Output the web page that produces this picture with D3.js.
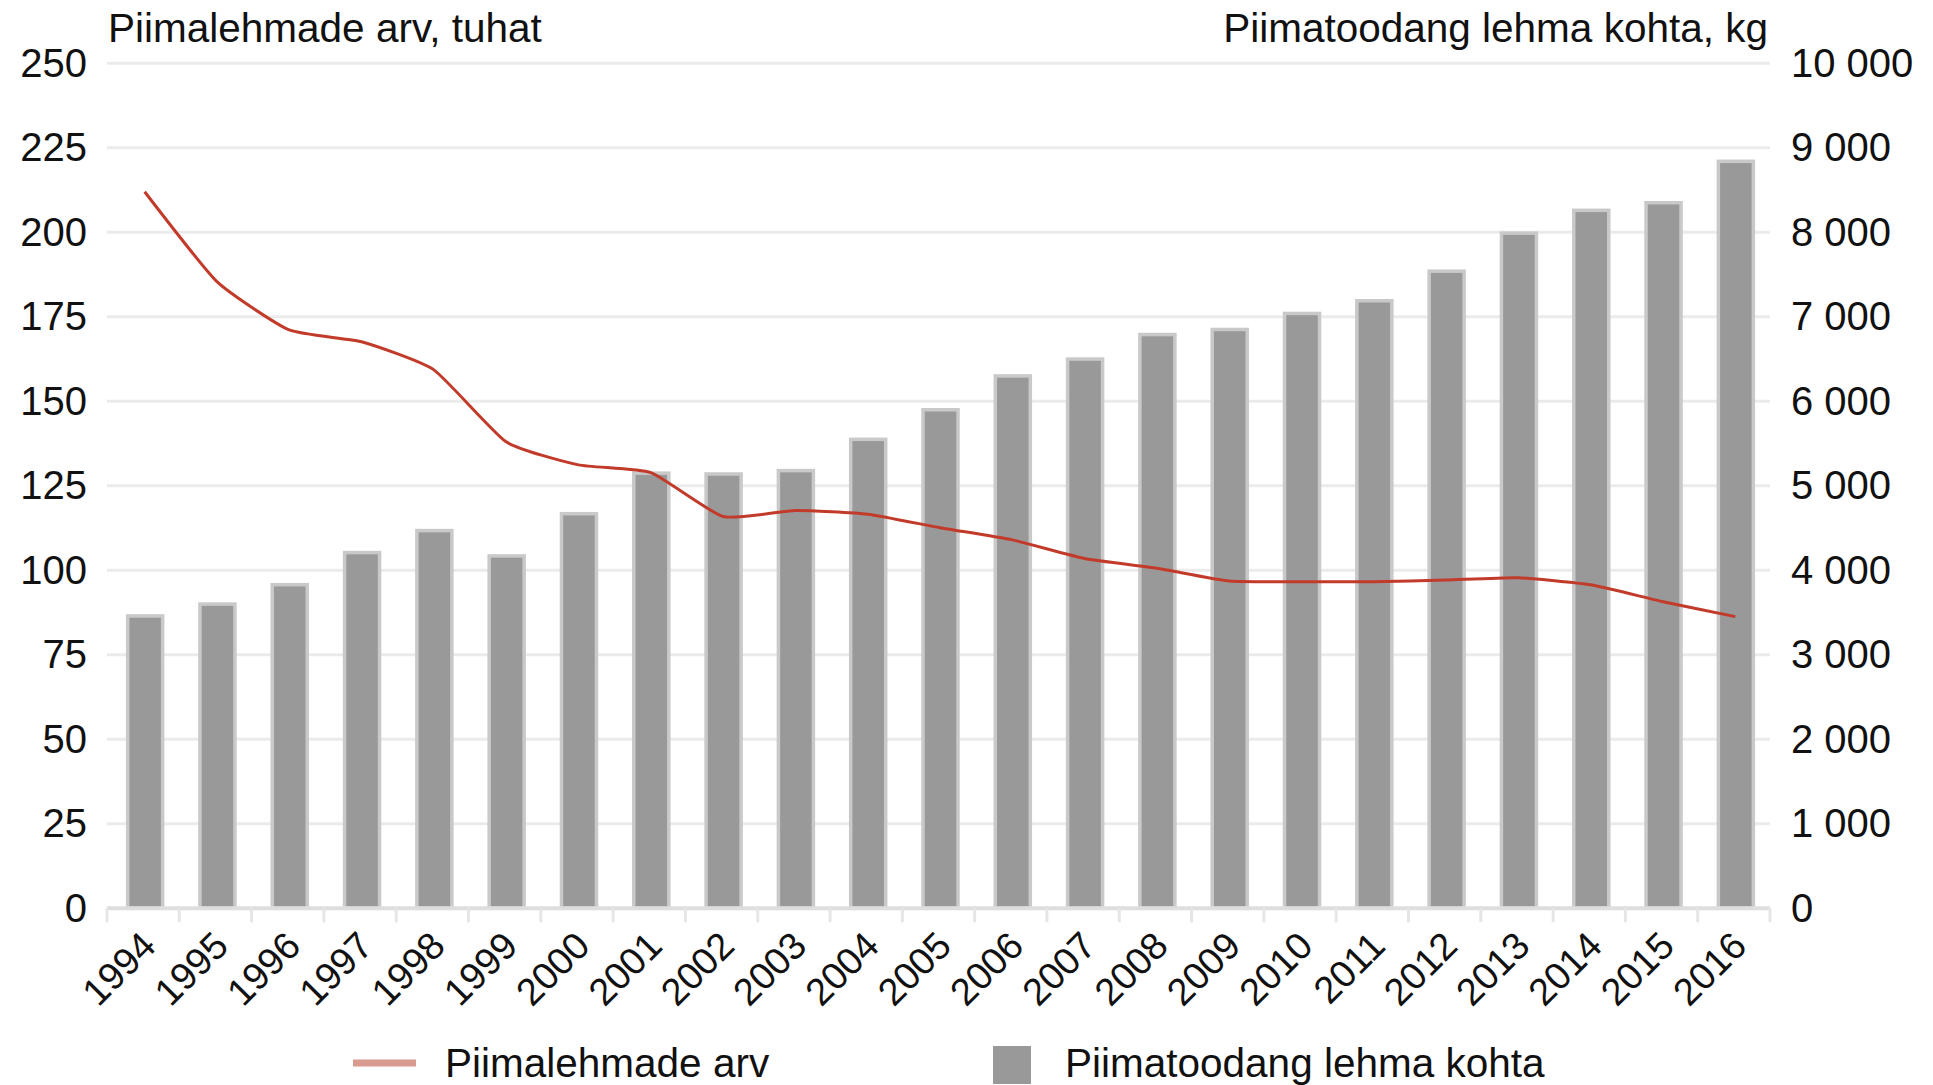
<!DOCTYPE html>
<html>
<head>
<meta charset="utf-8">
<script src="https://cdn.jsdelivr.net/npm/d3@7"></script>
<style>
  body { margin: 0; background: #fff; }
  svg { display: block; font-family: "Liberation Sans", Arial, sans-serif; }
</style>
</head>
<body>
<svg id="chart" width="1933" height="1085"></svg>
<script>
// years on the x axis
const years = ["1994","1995","1996","1997","1998","1999","2000","2001","2002","2003","2004","2005",
               "2006","2007","2008","2009","2010","2011","2012","2013","2014","2015","2016"]
// dairy cows, thousands (left axis, line)
const cows = [212.0, 185.4, 171.1, 167.6, 159.3, 138.0, 131.2, 128.9, 115.9, 117.7, 116.6, 112.6,
              109.0, 103.5, 100.6, 96.8, 96.6, 96.6, 97.1, 97.8, 95.7, 90.7, 86.3]
// milk yield per cow, kg (right axis, bars)
const milk = [3460, 3600, 3830, 4210, 4470, 4170, 4670, 5150, 5140, 5180, 5550, 5900,
              6300, 6500, 6790, 6850, 7040, 7190, 7540, 7990, 8260, 8350, 8840]
const leftTicks = [0, 25, 50, 75, 100, 125, 150, 175, 200, 225, 250]
const rightTicks = [0, 1000, 2000, 3000, 4000, 5000, 6000, 7000, 8000, 9000, 10000]
const leftTitle = "Piimalehmade arv, tuhat"
const rightTitle = "Piimatoodang lehma kohta, kg"
const lineName = "Piimalehmade arv"
const barName = "Piimatoodang lehma kohta"

const svg = d3.select("#chart")
const plotL = 107, plotR = 1770, plotT = 63.3, plotB = 908.3
const lineColor = "#c23b2a", barColor = "#999999"

const x = d3.scaleBand().domain(years).range([plotL, plotR]).padding(0)
const yL = d3.scaleLinear().domain([0, 250]).range([plotB, plotT])
const yR = d3.scaleLinear().domain([0, 10000]).range([plotB, plotT])

const fmt = d3.formatLocale({decimal: ",", thousands: " ", grouping: [3], currency: ["", ""]}).format(",")

// gridlines
svg.append("g")
  .selectAll("line")
  .data(leftTicks.slice(1))
  .join("line")
  .attr("x1", plotL).attr("x2", plotR)
  .attr("y1", d => yL(d)).attr("y2", d => yL(d))
  .attr("stroke", "#ebebeb")
  .attr("stroke-width", 3)

// left axis labels
svg.append("g")
  .attr("transform", `translate(${plotL - 20},0)`)
  .call(d3.axisLeft(yL).tickValues(leftTicks).tickSize(0).tickPadding(0))
  .call(g => g.select(".domain").remove())
  .selectAll("text")
  .attr("font-size", 40)
  .attr("font-family", "Liberation Sans, Arial, sans-serif")
  .attr("fill", "#111")

// right axis labels
svg.append("g")
  .attr("transform", `translate(${plotR + 21},0)`)
  .call(d3.axisRight(yR).tickValues(rightTicks).tickSize(0).tickPadding(0).tickFormat(fmt))
  .call(g => g.select(".domain").remove())
  .selectAll("text")
  .attr("font-size", 40)
  .attr("font-family", "Liberation Sans, Arial, sans-serif")
  .attr("fill", "#111")

// bars
const bw = 35
svg.append("g")
  .selectAll("rect")
  .data(milk)
  .join("rect")
  .attr("x", (d, i) => x(years[i]) + x.bandwidth() / 2 + 2 - bw / 2)
  .attr("y", d => yR(d))
  .attr("width", bw)
  .attr("height", d => plotB - yR(d))
  .attr("fill", barColor)
  .attr("stroke", "#c9c9c9")
  .attr("stroke-width", 3.5)

// x axis line and category ticks
svg.append("line")
  .attr("x1", plotL).attr("x2", plotR)
  .attr("y1", plotB).attr("y2", plotB)
  .attr("stroke", "#dedede")
  .attr("stroke-width", 4)
svg.append("g")
  .selectAll("line")
  .data(years.concat(["end"]))
  .join("line")
  .attr("x1", (d, i) => plotL + i * x.step())
  .attr("x2", (d, i) => plotL + i * x.step())
  .attr("y1", plotB).attr("y2", plotB + 14)
  .attr("stroke", "#e6e6e6")
  .attr("stroke-width", 3)

// rotated year labels
svg.append("g")
  .selectAll("text")
  .data(years)
  .join("text")
  .attr("transform", d => `translate(${x(d) + x.bandwidth() / 2 + 5.5},938.6) rotate(-45)`)
  .attr("text-anchor", "end")
  .attr("dy", "0.35em")
  .attr("font-size", 38)
  .attr("fill", "#111")
  .text(d => d)

// smoothed cow count line (a bit tighter than catmull-rom, like the original)
const line = d3.line()
  .x((d, i) => x(years[i]) + x.bandwidth() / 2 + 1.5)
  .y(d => yL(d))
  .curve(d3.curveCardinal.tension(0.5))
svg.append("path")
  .datum(cows)
  .attr("d", line)
  .attr("fill", "none")
  .attr("stroke", lineColor)
  .attr("stroke-width", 3)

// axis titles
svg.append("text")
  .attr("x", plotL + 1).attr("y", 41.5)
  .attr("font-size", 40.5)
  .attr("fill", "#111")
  .text(leftTitle)
svg.append("text")
  .attr("x", plotR - 2).attr("y", 41.5)
  .attr("text-anchor", "end")
  .attr("font-size", 40.5)
  .attr("fill", "#111")
  .text(rightTitle)

// legend
const legend = svg.append("g")
legend.append("line")
  .attr("x1", 353).attr("x2", 416)
  .attr("y1", 1063).attr("y2", 1063)
  .attr("stroke", "#d99b8f")
  .attr("stroke-width", 7)
legend.append("text")
  .attr("x", 445).attr("y", 1077)
  .attr("font-size", 40.5)
  .attr("fill", "#111")
  .text(lineName)
legend.append("rect")
  .attr("x", 993).attr("y", 1046)
  .attr("width", 38).attr("height", 38)
  .attr("fill", barColor)
legend.append("text")
  .attr("x", 1065).attr("y", 1077)
  .attr("font-size", 40.5)
  .attr("fill", "#111")
  .text(barName)
</script>
</body>
</html>
